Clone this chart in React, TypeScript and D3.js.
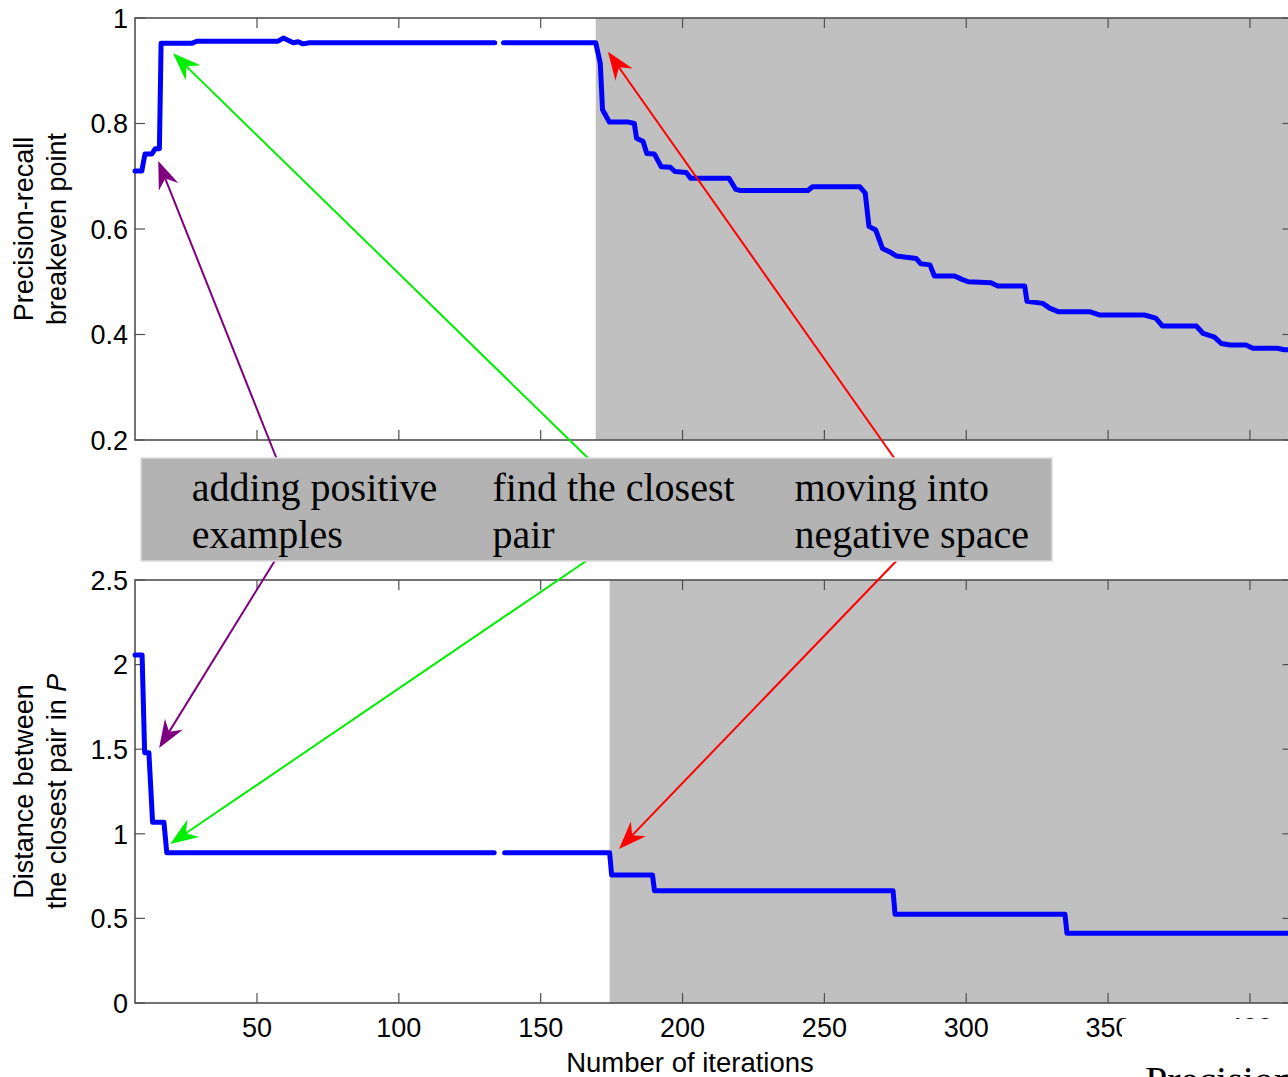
import React from "react";
import * as d3 from "d3";

// ---------- data ----------
const X_TICKS = [50, 100, 150, 200, 250, 300, 350, 400];
const TOP_Y_TICKS = [0.2, 0.4, 0.6, 0.8, 1];
const TOP_Y_LABELS = ["0.2", "0.4", "0.6", "0.8", "1"];
const BOTTOM_Y_TICKS = [0, 0.5, 1, 1.5, 2, 2.5];
const BOTTOM_Y_LABELS = ["0", "0.5", "1", "1.5", "2", "2.5"];

// precision-recall breakeven point (null = gap in the curve)
const topIter = [
  7.0, 9.4, 10.5, 12.9, 14.1, 15.6, 16.2, 27.0, 28.8, 57.4, 59.3, 62.8, 64.5, 66.2, 68.5, 133.8,
  null,
  136.9, 169.4, 171.0, 171.8, 174.2, 180.6, 183.0, 183.8, 186.1, 187.4, 190.1, 192.5, 195.7,
  197.3, 201.3, 202.9, 216.4, 218.8, 220.4, 244.2, 245.8, 262.5, 264.4, 265.7, 268.1, 270.5,
  272.9, 275.3, 282.4, 284.0, 287.2, 288.8, 295.9, 298.3, 300.7, 308.7, 311.1, 320.6, 321.4,
  327.0, 329.4, 332.6, 343.7, 346.9, 362.8, 366.8, 369.2, 381.1, 383.5, 387.5, 389.9, 393.0,
  398.6, 401.0, 409.7, 412.1, 415,
];
const topValue = [
  0.71, 0.71, 0.742, 0.742, 0.752, 0.752, 0.952, 0.952, 0.956, 0.956, 0.962, 0.953, 0.955, 0.951, 0.953, 0.953,
  null,
  0.953, 0.953, 0.914, 0.826, 0.803, 0.803, 0.8, 0.772, 0.766, 0.743, 0.742, 0.718, 0.717,
  0.709, 0.707, 0.696, 0.696, 0.675, 0.673, 0.673, 0.68, 0.68, 0.668, 0.605, 0.598, 0.563,
  0.557, 0.549, 0.544, 0.534, 0.532, 0.511, 0.511, 0.505, 0.5, 0.498, 0.492, 0.492, 0.463,
  0.459, 0.45, 0.443, 0.443, 0.437, 0.437, 0.431, 0.416, 0.416, 0.402, 0.395, 0.383, 0.38,
  0.38, 0.374, 0.374, 0.371, 0.371,
];

// distance between the closest pair in P
const bottomIter = [
  7.0, 9.5, 10.4, 11.9, 13.2, 17.2, 18.2, 133.6,
  null,
  137.3, 174.3, 175.0, 189.4, 190.1, 274.2, 274.9, 334.8, 335.5, 415,
];
const bottomValue = [
  2.057, 2.057, 1.479, 1.479, 1.068, 1.068, 0.888, 0.888,
  null,
  0.888, 0.888, 0.757, 0.757, 0.664, 0.664, 0.524, 0.524, 0.412, 0.412,
];

const SHADE_START_TOP = 169.4;
const SHADE_START_BOTTOM = 174.3;

// annotation box
const BOX_LINES = [
  ["adding positive", "examples"],
  ["find the closest", "pair"],
  ["moving into", "negative space"],
];
const BOX_TEXT_ITER = [27, 133, 239.5]; // text column start, in iterations

// arrows: colour, tip in top panel (iter,value), tip in bottom panel (iter,value), tail iter
const ARROW_COLORS = ["#7f007f", "#00ee00", "#ff0000"];
const ARROW_TOP_TIP = [[15.2, 0.729], [20.4, 0.933], [173.7, 0.936]];
const ARROW_BOTTOM_TIP = [[15.5, 1.507], [19.4, 0.94], [177.6, 0.91]];
const ARROW_TAIL_ITER_TOP = [57.4, 168.1, 275.6];
const ARROW_TAIL_ITER_BOTTOM = [57.1, 168.1, 276.7];

// ---------- layout ----------
const W = 1288;
const H = 1077;
const X_LEFT = 135;
const X_RIGHT = 1292.5;
const TOP_Y0 = 18;
const TOP_Y1 = 440;
const BOT_Y0 = 580;
const BOT_Y1 = 1003;
const BOX = { x: 141, y: 458, w: 911, h: 103 };

const SANS = "'Liberation Sans', Arial, Helvetica, sans-serif";
const SERIF = "'Liberation Serif', 'Times New Roman', serif";
const AXIS_COLOR = "#505050";
const SHADE = "#c0c0c0";

const x = d3.scaleLinear().domain([7, 415]).range([X_LEFT, X_RIGHT]);
const yTop = d3.scaleLinear().domain([0.2, 1]).range([TOP_Y1, TOP_Y0]);
const yBot = d3.scaleLinear().domain([0, 2.5]).range([BOT_Y1, BOT_Y0]);

function makePath(xs: (number | null)[], ys: (number | null)[], ys_: d3.ScaleLinear<number, number>) {
  const pts = xs.map((v, i) => [v, ys[i]] as [number | null, number | null]);
  const line = d3
    .line<[number | null, number | null]>()
    .defined((d) => d[0] !== null && d[1] !== null)
    .x((d) => x(d[0] as number))
    .y((d) => ys_(d[1] as number));
  return line(pts) || "";
}

function Arrow({ x1, y1, x2, y2, color }: { x1: number; y1: number; x2: number; y2: number; color: string }) {
  // (x2,y2) is the tip
  const dx = x2 - x1;
  const dy = y2 - y1;
  const len = Math.sqrt(dx * dx + dy * dy);
  const ux = dx / len;
  const uy = dy / len;
  const px = -uy;
  const py = ux;
  const L = 28;
  const Wd = 10.5;
  const N = 19;
  const b1 = [x2 - ux * L + px * Wd, y2 - uy * L + py * Wd];
  const b2 = [x2 - ux * L - px * Wd, y2 - uy * L - py * Wd];
  const nn = [x2 - ux * N, y2 - uy * N];
  return (
    <g>
      <line x1={x1} y1={y1} x2={nn[0]} y2={nn[1]} stroke={color} strokeWidth={2} />
      <polygon
        points={`${x2},${y2} ${b1[0]},${b1[1]} ${nn[0]},${nn[1]} ${b2[0]},${b2[1]}`}
        fill={color}
        stroke="none"
      />
    </g>
  );
}

function Panel({
  y,
  y0,
  y1,
  yTicks,
  yLabels,
  shadeStart,
  showXLabels,
}: {
  y: d3.ScaleLinear<number, number>;
  y0: number;
  y1: number;
  yTicks: number[];
  yLabels: string[];
  shadeStart: number;
  showXLabels: boolean;
}) {
  const tick = 10;
  return (
    <g>
      <rect x={X_LEFT} y={y0} width={X_RIGHT - X_LEFT} height={y1 - y0} fill="#fff" />
      <rect x={x(shadeStart)} y={y0} width={X_RIGHT - x(shadeStart)} height={y1 - y0} fill={SHADE} />
      {X_TICKS.map((t) => (
        <g key={"xt" + t}>
          <line x1={x(t)} x2={x(t)} y1={y1} y2={y1 - tick} stroke={AXIS_COLOR} strokeWidth={1.2} />
          <line x1={x(t)} x2={x(t)} y1={y0} y2={y0 + tick} stroke={AXIS_COLOR} strokeWidth={1.2} />
          {showXLabels && (
            <text x={x(t)} y={1037} textAnchor="middle" fontFamily={SANS} fontSize={27} fill="#000">
              {t}
            </text>
          )}
        </g>
      ))}
      {yTicks.map((t, i) => (
        <g key={"yt" + t}>
          <line x1={X_LEFT} x2={X_LEFT + tick} y1={y(t)} y2={y(t)} stroke={AXIS_COLOR} strokeWidth={1.2} />
          <line x1={X_RIGHT} x2={X_RIGHT - tick} y1={y(t)} y2={y(t)} stroke={AXIS_COLOR} strokeWidth={1.2} />
          <text x={128} y={y(t)} dy="0.36em" textAnchor="end" fontFamily={SANS} fontSize={27} fill="#000">
            {yLabels[i]}
          </text>
        </g>
      ))}
      <rect
        x={X_LEFT}
        y={y0}
        width={X_RIGHT - X_LEFT}
        height={y1 - y0}
        fill="none"
        stroke={AXIS_COLOR}
        strokeWidth={1.6}
      />
    </g>
  );
}

export default function App() {
  const topPath = makePath(topIter, topValue, yTop);
  const botPath = makePath(bottomIter, bottomValue, yBot);
  const topMid = (TOP_Y0 + TOP_Y1) / 2;
  const botMid = (BOT_Y0 + BOT_Y1) / 2;
  return (
    <svg
      width={W}
      height={H}
      viewBox={`0 0 ${W} ${H}`}
      style={{ position: "absolute", left: 0, top: 0, background: "#fff" }}
    >
      <Panel y={yTop} y0={TOP_Y0} y1={TOP_Y1} yTicks={TOP_Y_TICKS} yLabels={TOP_Y_LABELS} shadeStart={SHADE_START_TOP} showXLabels={false} />
      <Panel y={yBot} y0={BOT_Y0} y1={BOT_Y1} yTicks={BOTTOM_Y_TICKS} yLabels={BOTTOM_Y_LABELS} shadeStart={SHADE_START_BOTTOM} showXLabels={true} />

      <path d={topPath} fill="none" stroke="#0000ff" strokeWidth={5} strokeLinejoin="round" strokeLinecap="round" />
      <path d={botPath} fill="none" stroke="#0000ff" strokeWidth={5} strokeLinejoin="round" strokeLinecap="round" />

      {/* axis titles */}
      <text transform={`translate(33,${topMid}) rotate(-90)`} textAnchor="middle" fontFamily={SANS} fontSize={27} fill="#000">
        Precision-recall
      </text>
      <text transform={`translate(66,${topMid}) rotate(-90)`} textAnchor="middle" fontFamily={SANS} fontSize={27} fill="#000">
        breakeven point
      </text>
      <text transform={`translate(33,${botMid}) rotate(-90)`} textAnchor="middle" fontFamily={SANS} fontSize={27} fill="#000">
        Distance between
      </text>
      <text transform={`translate(66,${botMid}) rotate(-90)`} textAnchor="middle" fontFamily={SANS} fontSize={27} fill="#000">
        the closest pair in <tspan fontStyle="italic">P</tspan>
      </text>
      <text x={690} y={1072} textAnchor="middle" fontFamily={SANS} fontSize={27.5} fill="#000">
        Number of iterations
      </text>

      {/* arrows */}
      {ARROW_COLORS.map((c, i) => (
        <g key={"ar" + i}>
          <Arrow
            x1={x(ARROW_TAIL_ITER_TOP[i])}
            y1={BOX.y + 4}
            x2={x(ARROW_TOP_TIP[i][0])}
            y2={yTop(ARROW_TOP_TIP[i][1])}
            color={c}
          />
          <Arrow
            x1={x(ARROW_TAIL_ITER_BOTTOM[i])}
            y1={BOX.y + BOX.h - 4}
            x2={x(ARROW_BOTTOM_TIP[i][0])}
            y2={yBot(ARROW_BOTTOM_TIP[i][1])}
            color={c}
          />
        </g>
      ))}

      {/* annotation box */}
      <rect x={BOX.x} y={BOX.y} width={BOX.w} height={BOX.h} fill="#b3b3b3" stroke="#dcdcdc" strokeWidth={1.5} />
      {BOX_LINES.map((lines, i) => (
        <text key={"bx" + i} fontFamily={SERIF} fontSize={40} fill="#000">
          {lines.map((l, j) => (
            <tspan key={j} x={x(BOX_TEXT_ITER[i])} y={501 + j * 47}>
              {l}
            </tspan>
          ))}
        </text>
      ))}

      {/* cropped caption area */}
      <rect x={1122} y={1019} width={W - 1122} height={H - 1019} fill="#fff" />
      <text x={1145} y={1094} fontFamily={SERIF} fontSize={40} fill="#000">
        Precision
      </text>
    </svg>
  );
}
